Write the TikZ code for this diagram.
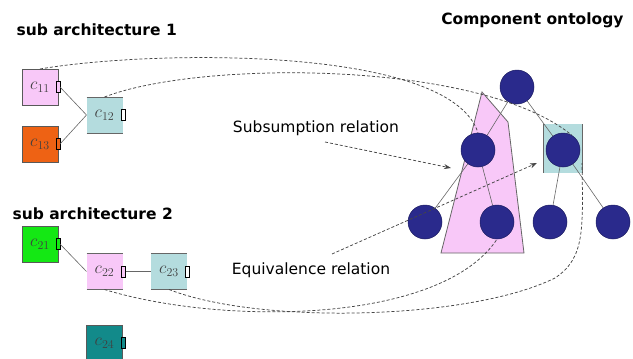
\documentclass[tikz,border=0pt]{standalone}
\usepackage{fontspec}
\setmainfont{DejaVu Sans}
\usetikzlibrary{arrows.meta,backgrounds,calc}
\definecolor{cpink}{RGB}{248,200,248}
\definecolor{corange}{RGB}{238,98,20}
\definecolor{cblue}{RGB}{180,220,222}
\definecolor{cgreen}{RGB}{20,232,20}
\definecolor{cteal}{RGB}{18,138,138}
\definecolor{cnavy}{RGB}{42,42,140}
\definecolor{cdash}{RGB}{70,70,70}
\tikzset{
 comp/.style={minimum width=36pt, minimum height=36pt, inner sep=0pt, outer sep=0pt, text=black!75, font=\fontsize{17}{17}\selectfont},
 fullbox/.style={comp, draw=black!65, line width=0.8pt},
 port/.style={draw=black, line width=0.6pt, minimum width=4pt, minimum height=11pt, inner sep=0pt, outer sep=0pt},
 onode/.style={circle, fill=cnavy, draw=cnavy!70!black, line width=0.5pt, minimum size=34pt, inner sep=0pt},
 dline/.style={draw=cdash, line width=0.75pt, dash pattern=on 3pt off 2pt},
 link/.style={draw=black!60, line width=0.6pt},
 tedge/.style={draw=black!60, line width=0.6pt},
 rim/.style={draw=black!60, line width=1pt},
 head/.style={font=\fontsize{15.5}{16}\selectfont\bfseries},
 rel/.style={font=\fontsize{15.5}{16}\selectfont},
 tip/.style={-{Stealth[length=7pt,width=5pt]}},
}
\begin{document}
\begin{tikzpicture}[x=1pt,y=-1pt]
\useasboundingbox (0,0) rectangle (633,359);
% headers
\node[head, anchor=west] (h1) at (13,30) {sub architecture 1};
\node[head, anchor=west] (h2) at (9,214) {sub architecture 2};
\node[head, anchor=east] (h3) at (627,20) {Component ontology};
% sub architecture 1
\node[fullbox, fill=cpink] (c11) at (40,87) {$c_{11}$};
\node[fullbox, fill=corange] (c13) at (40,144) {$c_{13}$};
\node[comp, fill=cblue] (c12) at (104.5,115) {$c_{12}$};
\draw[rim] (c12.north west) -- (c12.north east) (c12.south west) -- (c12.south east);
\node[port, fill=cpink] (p11) at (c11.east) {};
\node[port, fill=corange] (p13) at (c13.east) {};
\node[port, fill=white] (p12) at ($(c12.east)+(1,0)$) {};
\draw[link] (p11.east) -- (c12.west);
\draw[link] (p13.east) -- (c12.west);
% sub architecture 2
\node[fullbox, fill=cgreen] (c21) at (40,244) {$c_{21}$};
\node[comp, fill=cpink] (c22) at (104.5,271.5) {$c_{22}$};
\node[comp, fill=cblue] (c23) at (169,271.5) {$c_{23}$};
\node[fullbox, fill=cteal] (c24) at (104.5,343) {$c_{24}$};
\draw[rim] (c22.north west) -- (c22.north east) (c22.south west) -- (c22.south east);
\draw[rim] (c23.north west) -- (c23.north east) (c23.south west) -- (c23.south east);
\node[port, fill=cgreen] (p21) at (c21.east) {};
\node[port, fill=cpink] (p22) at ($(c22.east)+(1,0)$) {};
\node[port, fill=white] (p23) at (c23.east) {};
\node[port, fill=cteal] (p24) at ($(c24.east)+(1,0)$) {};
\draw[link] (p21.east) -- (c22.west);
\draw[link] (p22.east) -- (c23.west);
% ontology
\node[onode] (root) at (517,87) {};
\node[onode] (ml) at (478,150) {};
\node[onode] (mr) at (563,150) {};
\node[onode] (b1) at (425,222) {};
\node[onode] (b2) at (497,222) {};
\node[onode] (b3) at (550,222) {};
\node[onode] (b4) at (613,222) {};
\begin{scope}[on background layer]
\filldraw[fill=cpink, draw=black!60, line width=0.8pt] (482,92) -- (508,122) -- (524,253) -- (441,253) -- cycle;
\node[fill=cblue, minimum width=39pt, minimum height=49pt, inner sep=0pt, outer sep=0pt] (rect) at (562.5,148.5) {};
\draw[rim] (rect.north west) -- (rect.south west) (rect.north east) -- (rect.south east);
\draw[tedge] (root) -- (ml);
\draw[tedge] (root) -- (mr);
\draw[tedge] (ml) -- (b1);
\draw[tedge] (ml) -- (b2);
\draw[tedge] (mr) -- (b3);
\draw[tedge] (mr) -- (b4);
\end{scope}
% relation labels
\node[rel] (sub) at (316,128) {Subsumption relation};
\node[rel] (equ) at (311,270) {Equivalence relation};
% dashed mappings
\draw[dline] (c11.north) .. controls (150,50) and (450,45) .. (ml.north);
\draw[dline] (c12.north) .. controls (200,60) and (480,60) .. (mr.60);
\draw[dline] (c22.south) .. controls (220,325) and (440,325) .. (b2.south);
\coordinate (rse) at ($(rect.south east)+(0,-10)$);
\draw[dline] (c23.south) .. controls (260,325) and (470,320) .. (555,278) .. controls (585,258) and (583,230) .. (rse);
% relation arrows
\coordinate (sa) at (325,142);
\coordinate (sb) at (451,168);
\draw[dline, tip] (sa) -- (sb);
\coordinate (ea) at (332,254);
\coordinate (eb) at (537,163);
\draw[dline, tip] (ea) -- (eb);
\end{tikzpicture}
\end{document}
